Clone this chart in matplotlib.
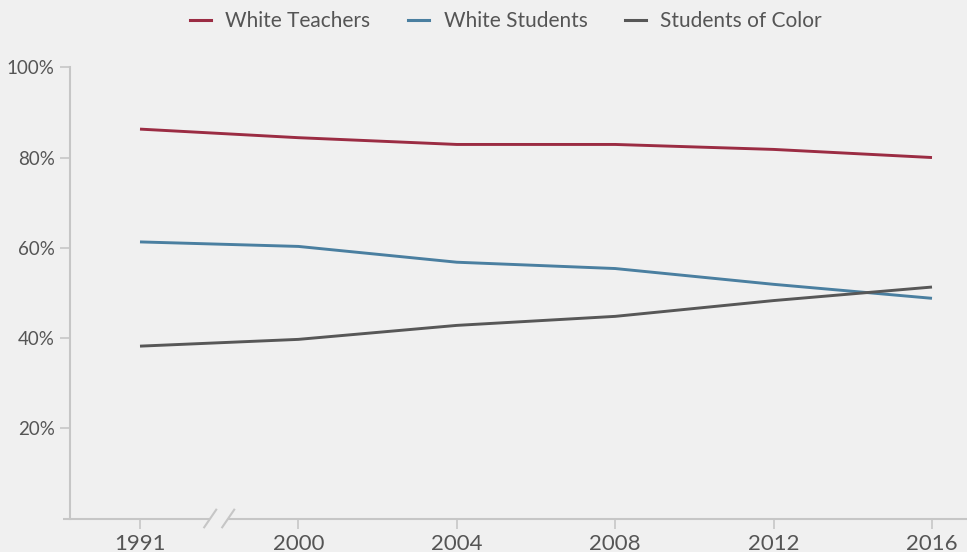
import matplotlib
matplotlib.use("Agg")
import matplotlib.pyplot as plt
from matplotlib.lines import Line2D

years = ["1991", "2000", "2004", "2008", "2012", "2016"]
white_teachers = [86.3, 84.4, 82.9, 82.9, 81.8, 80.0]
white_students = [61.3, 60.3, 56.8, 55.4, 51.9, 48.8]
students_of_color = [38.2, 39.7, 42.8, 44.8, 48.3, 51.3]
series_names = ["White Teachers", "White Students", "Students of Color"]
colors = ["#9b2c43", "#4a7fa0", "#575757"]
yticks = [20, 40, 60, 80, 100]

plt.rcParams['font.family'] = ['Lato', 'DejaVu Sans']
bg = "#f0f0f0"
txt = "#555555"
axc = "#c6c6c6"

W, H = 967, 552
fig = plt.figure(figsize=(W / 100, H / 100), dpi=100, facecolor=bg)

x0px, x5px = 140, 932
unit = (x5px - x0px) / 5
left_px = 70
xmin = (left_px - x0px) / unit
xmax = (W - x0px) / unit
top_px, bot_px = 67.3, 518.5
ax = fig.add_axes([left_px / W, 1 - bot_px / H, (W - left_px) / W, (bot_px - top_px) / H])
ax.set_facecolor(bg)
ax.set_xlim(xmin, xmax)
ax.set_ylim(0, 100)

xs = list(range(len(years)))
for vals, c, name in zip([white_teachers, white_students, students_of_color], colors, series_names):
    ax.plot(xs, vals, color=c, lw=2.1, solid_capstyle='butt', label=name)

for s in ["top", "right", "bottom"]:
    ax.spines[s].set_visible(False)
ax.spines["left"].set_color(axc)
ax.spines["left"].set_linewidth(1.5)

ax.set_yticks(yticks)
ax.set_yticklabels([f"{v}%" for v in yticks])
ax.tick_params(axis='y', colors=axc, labelcolor=txt, labelsize=13.5, length=7, width=1.2, pad=4)
ax.set_xticks(xs)
ax.set_xticklabels(years)
ax.tick_params(axis='x', colors=axc, labelcolor=txt, labelsize=16, length=7, width=1.2, pad=4)

# bottom axis line with break
brk_c = 0.5
gap = 9 / unit
xl = (63 - x0px) / unit
ax.plot([xl, brk_c - gap], [0, 0], color=axc, lw=1.5, clip_on=False, solid_capstyle='butt')
ax.plot([brk_c + gap, xmax], [0, 0], color=axc, lw=1.5, clip_on=False, solid_capstyle='butt')
# slashes
dx = 6 / unit
dy = 16 / 4.512
for cx in [brk_c - gap, brk_c + gap]:
    ax.plot([cx - dx, cx + dx], [-dy / 2 * 1.1, dy / 2 * 1.1], color=axc, lw=1.5, clip_on=False)

handles = [Line2D([0], [0], color=c, lw=2.2) for c in colors]
leg = fig.legend(handles, series_names, loc='center', bbox_to_anchor=(506 / W, 1 - 21 / H),
                 ncol=3, frameon=False, fontsize=15, handlelength=1.0, handletextpad=0.7,
                 columnspacing=1.8, labelcolor=txt)

fig.savefig("out.png", dpi=100, facecolor=bg)
